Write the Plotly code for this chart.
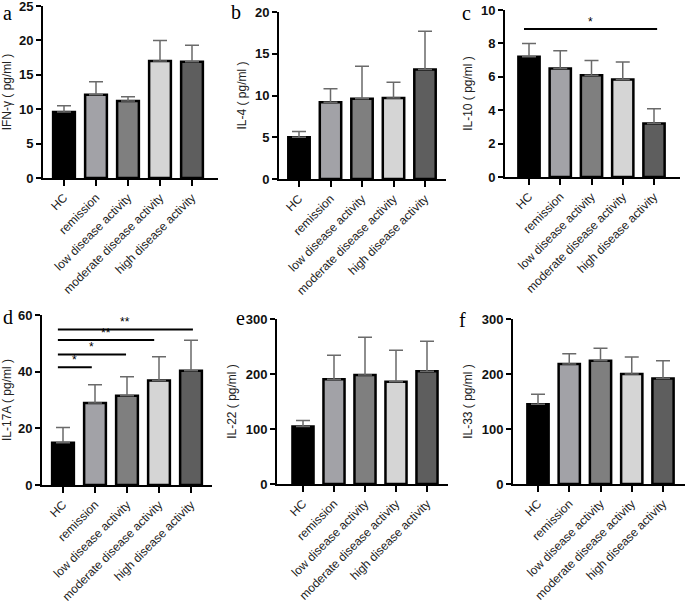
import plotly.graph_objects as go

W, H = 685, 606

categories = ["HC", "remission", "low disease activity", "moderate disease activity", "high disease activity"]
bar_colors = ["#000000", "#a2a2a7", "#7f7f7f", "#d5d5d5", "#5e5e5e"]

ifng_mean = [9.6, 12.1, 11.2, 17.0, 16.9]
ifng_err = [0.9, 1.9, 0.6, 3.0, 2.4]
il4_mean = [5.0, 9.2, 9.6, 9.7, 13.1]
il4_err = [0.7, 1.6, 3.9, 1.9, 4.6]
il10_mean = [7.2, 6.5, 6.1, 5.84, 3.2]
il10_err = [0.8, 1.06, 0.88, 1.04, 0.88]
il17a_mean = [14.9, 28.9, 31.5, 36.9, 40.3]
il17a_err = [5.4, 6.5, 6.7, 8.4, 10.8]
il22_mean = [104.5, 190.5, 198.0, 186.0, 205.0]
il22_err = [11.0, 43.5, 69.0, 57.0, 54.5]
il33_mean = [145.0, 218.0, 224.0, 200.0, 192.0]
il33_err = [18.0, 19.0, 23.0, 31.0, 32.0]

y_titles = ["IFN-γ ( pg/ml )", "IL-4 ( pg/ml )", "IL-10 ( pg/ml )",
            "IL-17A ( pg/ml )", "IL-22 ( pg/ml )", "IL-33 ( pg/ml )"]
letters = ["a", "b", "c", "d", "e", "f"]
y_max = [25, 20, 10, 60, 300, 300]
y_dtick = [5, 5, 2, 20, 100, 100]

# significance brackets: (panel index, start cat idx, end cat idx, y value, label)
sig_c = [(2, -0.16, 4.1, 8.86, "*")]
sig_d = [(3, -0.16, 0.9, 41.6, "*"), (3, -0.16, 1.97, 46.1, "*"),
         (3, -0.16, 2.85, 51.2, "**"), (3, -0.16, 4.06, 54.9, "**")]

means = [ifng_mean, il4_mean, il10_mean, il17a_mean, il22_mean, il33_mean]
errs = [ifng_err, il4_err, il10_err, il17a_err, il22_err, il33_err]

# layout geometry in pixels: (axis x left, axis x right, y top(max), y zero, first bar center, spacing)
geom = [
    (43, 218, 6, 178, 64, 32),
    (279, 446, 12, 179, 299, 31.5),
    (505, 680, 10, 177, 529, 31.25),
    (42, 212, 315, 485, 63, 32),
    (277, 448, 319, 484, 303, 31),
    (513, 685, 319, 484, 538, 31.25),
]
letter_pos = [(8, 13), (236, 12), (466, 13), (8, 317), (240, 318), (462, 320)]

SANS = "Liberation Sans"
fig = go.Figure()
layout = dict(width=W, height=H, margin=dict(l=0, r=0, t=0, b=0),
              plot_bgcolor="white", paper_bgcolor="white", showlegend=False,
              font=dict(family=SANS))
annotations = []
shapes = []

tick_font = dict(family=SANS, size=13, color="#111", weight="bold")
xtick_font = dict(family=SANS, size=12, color="#222")

for i in range(6):
    xl, xr, yt, yz, c0, sp = geom[i]
    xa = "x" if i == 0 else f"x{i+1}"
    ya = "y" if i == 0 else f"y{i+1}"
    fig.add_trace(go.Bar(
        x=categories, y=means[i], xaxis=xa, yaxis=ya,
        marker=dict(color=bar_colors, line=dict(color="#000", width=2.5)),
        width=0.68,
        error_y=dict(type="data", array=errs[i], arrayminus=[0]*5, symmetric=False,
                     color="#6a6a6a", thickness=1.5, width=7),
    ))
    xkey = "xaxis" if i == 0 else f"xaxis{i+1}"
    ykey = "yaxis" if i == 0 else f"yaxis{i+1}"
    r0 = (xl - c0) / sp
    r1 = (xr - c0) / sp
    yticks = list(range(0, y_max[i] + 1, y_dtick[i]))
    layout[xkey] = dict(domain=[xl / W, xr / W], anchor=ya, range=[r0, r1], automargin=False,
                        type="category", categoryorder="array", categoryarray=categories,
                        showline=True, linecolor="#000", linewidth=2, ticklabeloverflow="allow",
                        ticks="outside", ticklen=6, tickwidth=1.5, tickcolor="#000",
                        tickangle=-45, tickfont=xtick_font, showgrid=False, zeroline=False)
    layout[ykey] = dict(domain=[1 - yz / H, 1 - yt / H], anchor=xa, range=[0, y_max[i]],
                        automargin=False, ticklabeloverflow="allow",
                        tickvals=yticks, ticktext=[f"<b>{v}</b>" for v in yticks],
                        showline=True, linecolor="#000", linewidth=2,
                        ticks="outside", ticklen=5, tickwidth=1.5, tickcolor="#000",
                        tickfont=tick_font, showgrid=False, zeroline=False,
                        title=dict(text=y_titles[i], standoff=6,
                                   font=dict(family=SANS, size=12, color="#222")))
    lx, ly = letter_pos[i]
    annotations.append(dict(text=letters[i], x=lx / W, y=1 - ly / H, xref="paper", yref="paper",
                            showarrow=False, xanchor="center", yanchor="middle",
                            font=dict(family="Liberation Serif", size=20, color="#000")))

for (p, a, b, yv, lab) in sig_c + sig_d:
    xa = "x" if p == 0 else f"x{p+1}"
    ya = "y" if p == 0 else f"y{p+1}"
    shapes.append(dict(type="line", xref=xa, yref=ya, x0=a, x1=b, y0=yv, y1=yv,
                       line=dict(color="#000", width=2)))
    annotations.append(dict(text=lab, xref=xa, yref=ya, x=(a + b) / 2, y=yv,
                            showarrow=False, yanchor="bottom", yshift=-2,
                            font=dict(family=SANS, size=12, color="#000")))

layout["annotations"] = annotations
layout["shapes"] = shapes
fig.update_layout(**layout)
fig.write_html("out.html", config={"displayModeBar": False},
               post_script="document.body.style.margin='0';document.body.style.overflow='hidden';")
